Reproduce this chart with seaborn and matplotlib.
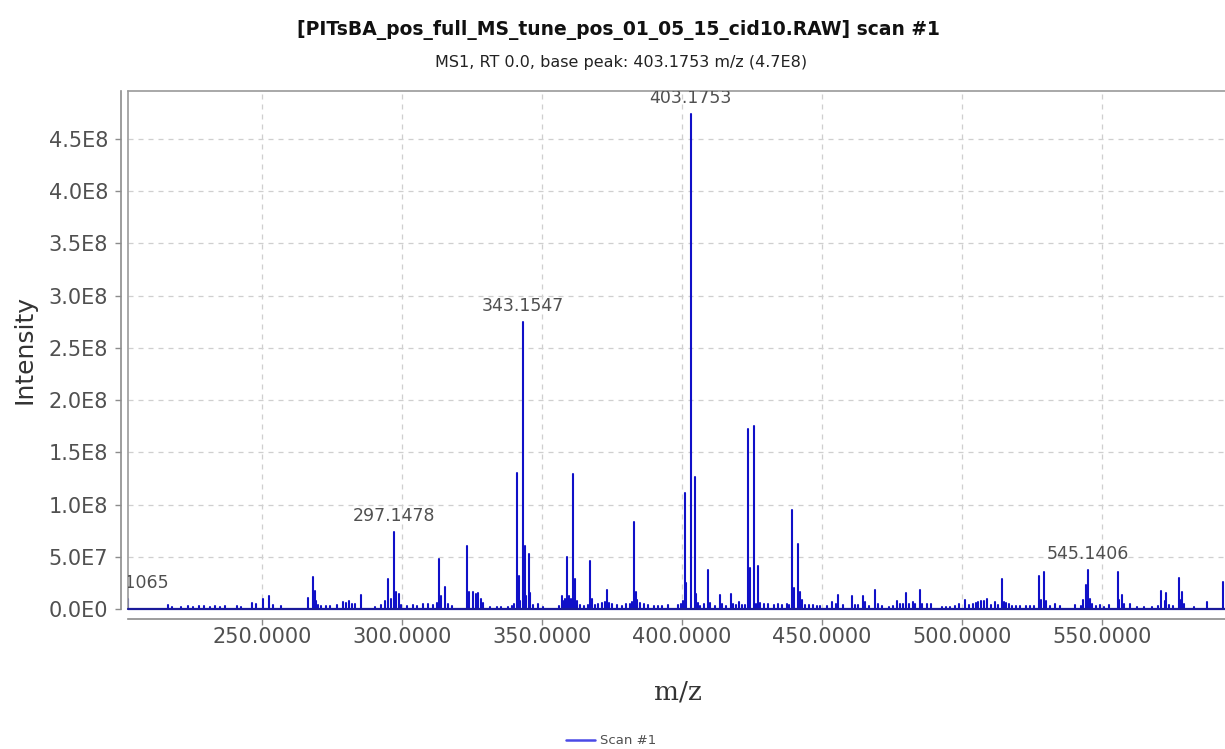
import numpy as np
import pandas as pd
import matplotlib
matplotlib.use("Agg")
import matplotlib.pyplot as plt
import seaborn as sns
from matplotlib.lines import Line2D
from matplotlib.ticker import FixedLocator, FuncFormatter

# ---------------- data ----------------
title = "[PITsBA_pos_full_MS_tune_pos_01_05_15_cid10.RAW] scan #1"
subtitle = "MS1, RT 0.0, base peak: 403.1753 m/z (4.7E8)"
series_name = "Scan #1"
x_label = "m/z"
y_label = "Intensity"

mz = [202.1065, 216.6, 218.0, 221.0, 223.5, 225.5, 227.5, 229.5, 231.5, 233.3, 235.2, 237.0,
      241.0, 242.5, 246.5, 248.0, 250.3, 252.5, 254.0, 257.0, 266.6, 268.4, 268.9, 269.5,
      270.2, 271.0, 273.0, 274.5, 277.0, 279.1, 280.0, 281.2, 282.2, 283.2, 285.3, 290.5,
      292.5, 294.0, 295.2, 296.0, 297.1478, 297.9, 299.0, 299.8, 302.0, 304.0, 305.5, 307.5,
      309.5, 311.0, 312.5, 313.4, 314.0, 315.4, 316.4, 318.0, 323.2, 324.0, 325.3, 326.5,
      327.3, 328.3, 329.0, 331.5, 334.0, 335.5, 338.0, 339.5, 340.1, 341.0, 341.7, 342.3,
      343.1547, 343.9, 344.5, 345.3, 345.8, 347.0, 348.5, 350.5, 356.0, 357.1, 357.8, 358.4,
      359.1, 359.7, 360.4, 361.3, 361.8, 362.5, 363.5, 365.0, 366.5, 367.2, 367.8, 369.0,
      370.2, 371.5, 372.5, 373.2, 374.0, 375.0, 377.0, 378.5, 380.0, 381.5, 382.3, 383.0,
      383.5, 384.2, 385.0, 386.5, 388.0, 390.0, 391.5, 393.0, 395.0, 398.5, 399.8, 400.5,
      401.1, 401.7, 403.1753, 404.6, 405.1, 405.8, 406.5, 408.0, 409.3, 410.0, 412.0, 413.6,
      414.5, 415.8, 417.5, 418.3, 419.5, 420.5, 421.5, 422.5, 423.7, 424.3, 425.9, 426.6,
      427.2, 428.0, 429.5, 431.0, 433.0, 434.5, 436.0, 437.5, 438.5, 439.5, 440.2, 441.5,
      442.1, 443.0, 444.0, 445.5, 447.0, 448.5, 449.5, 452.0, 453.7, 455.0, 455.8, 457.5,
      461.0, 462.0, 463.0, 464.6, 465.5, 467.0, 469.0, 470.0, 471.5, 474.0, 475.5, 477.0,
      478.0, 479.0, 480.3, 481.3, 482.5, 483.5, 485.1, 486.0, 487.5, 489.0, 493.0, 494.5,
      496.0, 497.5, 499.0, 501.1, 502.5, 504.0, 505.0, 506.0, 507.0, 508.0, 509.1, 510.5,
      512.0, 513.0, 514.3, 515.0, 516.0, 517.0, 518.0, 519.5, 521.0, 523.0, 524.5, 526.0,
      527.7, 528.3, 529.6, 530.2, 531.5, 533.2, 535.0, 540.5, 542.5, 543.5, 544.4, 545.1406,
      545.7, 546.6, 548.0, 549.5, 551.0, 552.5, 555.7, 556.3, 557.3, 558.0, 560.0, 562.5,
      565.0, 568.0, 570.0, 571.4, 572.5, 573.0, 574.0, 575.5, 577.7, 578.3, 578.8, 579.5,
      583.0, 587.7, 593.4]

intensity_e6 = [9.5, 3.5, 2.0, 2.0, 2.5, 2.0, 2.5, 2.5, 2.0, 2.5, 2.0, 2.5,
                2.5, 1.8, 5.5, 5.0, 9.5, 12.5, 4.0, 3.0, 10.5, 31.0, 17.0, 8.0,
                4.0, 3.0, 2.5, 2.5, 3.5, 7.0, 6.0, 7.5, 5.0, 4.5, 13.5, 2.0,
                4.0, 8.0, 28.5, 10.0, 74.0, 16.5, 14.0, 4.0, 3.0, 4.0, 3.0, 4.5,
                5.0, 3.5, 6.0, 47.5, 12.0, 21.0, 5.0, 3.0, 60.5, 16.0, 16.7, 14.5,
                15.0, 10.0, 6.0, 2.0, 2.0, 1.5, 2.0, 3.0, 5.0, 130.0, 32.0, 8.0,
                274.5, 60.0, 12.0, 53.0, 15.0, 4.0, 5.0, 2.0, 3.0, 12.5, 8.0, 10.0,
                49.5, 12.0, 10.0, 129.0, 28.5, 8.0, 4.0, 3.0, 4.0, 46.0, 10.0, 4.0,
                5.0, 6.0, 7.0, 18.3, 6.0, 5.0, 4.0, 3.0, 5.0, 5.0, 7.0, 83.0,
                16.0, 9.0, 6.0, 5.0, 4.0, 2.5, 3.0, 3.0, 3.5, 4.0, 5.0, 8.0,
                111.0, 25.0, 474.0, 126.0, 14.0, 6.0, 3.0, 5.0, 37.0, 6.0, 3.0, 13.5,
                5.0, 3.0, 14.5, 5.0, 4.0, 7.0, 4.0, 4.0, 172.0, 39.0, 175.0, 5.0,
                41.0, 6.0, 5.0, 5.0, 4.0, 5.0, 4.0, 5.0, 4.0, 95.0, 20.0, 62.0,
                16.5, 9.0, 4.0, 4.0, 4.0, 3.0, 3.0, 3.0, 7.0, 4.5, 13.5, 3.5,
                12.0, 4.0, 4.0, 12.0, 7.0, 3.0, 18.0, 5.0, 2.5, 2.0, 3.0, 8.0,
                5.0, 5.0, 15.0, 5.0, 7.0, 5.0, 18.0, 5.0, 5.0, 5.0, 2.0, 2.0,
                2.0, 3.0, 5.0, 8.5, 4.0, 5.0, 6.0, 7.0, 8.0, 8.0, 10.0, 4.0,
                7.0, 4.0, 29.0, 7.0, 6.0, 5.0, 3.0, 3.0, 3.0, 3.0, 3.0, 3.0,
                32.0, 9.0, 35.0, 8.0, 3.0, 5.0, 3.0, 4.0, 3.0, 9.0, 23.0, 37.0,
                10.0, 5.0, 3.0, 4.0, 2.0, 4.0, 35.0, 9.0, 13.0, 5.0, 5.0, 2.0,
                2.0, 2.0, 3.0, 17.0, 8.0, 15.0, 4.0, 3.0, 30.0, 9.0, 16.0, 5.0,
                2.0, 7.0, 26.0]

labeled_mz = [202.1065, 297.1478, 343.1547, 403.1753, 545.1406]

x_ticks = [250, 300, 350, 400, 450, 500, 550]
y_ticks = [0, 5e7, 1e8, 1.5e8, 2e8, 2.5e8, 3e8, 3.5e8, 4e8, 4.5e8]
x_range = (202.05, 594.1)
y_range = (0, 4.96e8)

# ---------------- style ----------------
sns.set_theme(style="white")
plt.rcParams["font.family"] = ["DejaVu Sans"]

STICK = "#1010c8"
GRID = "#cfcfcf"
AXIS = "#8c8c8c"
TXT = "#505050"

fig = plt.figure(figsize=(12.25, 7.49), dpi=100)
ax = fig.add_axes([0.1042, 1 - 609 / 749, 1 - 0.1042, (609 - 91) / 749])

# long-form table: each peak is a stick from the baseline to its intensity
intensity = np.array(intensity_e6) * 1e6
peaks = pd.DataFrame({"mz": mz, "intensity": intensity, "peak": np.arange(len(mz))})
base = peaks.assign(intensity=0.0)
sticks = pd.concat([base, peaks], ignore_index=True)

sns.lineplot(data=sticks, x="mz", y="intensity", units="peak", estimator=None,
             color=STICK, lw=1.5, legend=False, ax=ax, zorder=3)

ax.set_xlim(*x_range)
ax.set_ylim(*y_range)
ax.set_axisbelow(True)

# grid
ax.grid(True, color=GRID, lw=0.9, linestyle=(0, (4, 4)))

# ticks / formatters
def sci(v, pos=None):
    if v == 0:
        return "0.0E0"
    s = f"{v:.1E}"
    mant, exp = s.split("E")
    return f"{mant}E{int(exp)}"

ax.xaxis.set_major_locator(FixedLocator(x_ticks))
ax.xaxis.set_major_formatter(FuncFormatter(lambda v, p: f"{v:.4f}"))
ax.yaxis.set_major_locator(FixedLocator(y_ticks))
ax.yaxis.set_major_formatter(FuncFormatter(sci))

ax.tick_params(axis="both", which="major", direction="out", length=4, width=1,
               color=AXIS, labelcolor=TXT, labelsize=15)
ax.tick_params(axis="x", pad=2)
ax.tick_params(axis="y", pad=5)
ax.tick_params(left=True, bottom=True)

# spines: offset axis lines + plot frame
for side in ["left", "bottom"]:
    ax.spines[side].set_visible(True)
    ax.spines[side].set_color(AXIS)
    ax.spines[side].set_linewidth(1.2)
ax.spines["left"].set_position(("outward", 5))
ax.spines["bottom"].set_position(("outward", 7))
ax.spines["top"].set_visible(True)
ax.spines["top"].set_color("#9a9a9a")
ax.spines["top"].set_linewidth(1.2)
ax.spines["right"].set_visible(False)
ax.plot([0, 0], [0, 1], transform=ax.transAxes, color="#9a9a9a", lw=1.2, clip_on=False, zorder=4)
ax.plot([0, 1], [0, 0], transform=ax.transAxes, color="#1a1a9a", lw=1.6, clip_on=False, zorder=4)

# peak labels
for m in labeled_mz:
    i = mz.index(m)
    ax.annotate(f"{m:.4f}", xy=(m, intensity[i]), xytext=(0, 11.5),
                textcoords="offset points", ha="center", va="center",
                fontsize=12.5, color=TXT, clip_on=True, zorder=5)

# axis labels
ax.set_xlabel(x_label, fontsize=19, color="#333333", family="DejaVu Serif")
ax.xaxis.label.set_va("center")
ax.xaxis.set_label_coords(0.5015, -0.160)
ax.set_ylabel(y_label, fontsize=18, color="#333333")
ax.yaxis.label.set_va("center")
ax.yaxis.set_label_coords(-0.0936, 0.5)

# titles
fig.text(618 / 1225, 1 - 30 / 749, title, ha="center", va="center",
         fontsize=13.5, fontweight="bold", color="#111111")
fig.text(621 / 1225, 1 - 63 / 749, subtitle, ha="center", va="center",
         fontsize=11.5, color="#222222")

# legend
handle = Line2D([], [], color="#4a4ae6", lw=1.8)
fig.legend([handle], [series_name], loc="center", bbox_to_anchor=(611 / 1225, 1 - 741 / 749),
           frameon=False, fontsize=9.5, handlelength=2.2, handletextpad=0.4,
           labelcolor=TXT, borderpad=0)

fig.savefig("out.png", dpi=100)
